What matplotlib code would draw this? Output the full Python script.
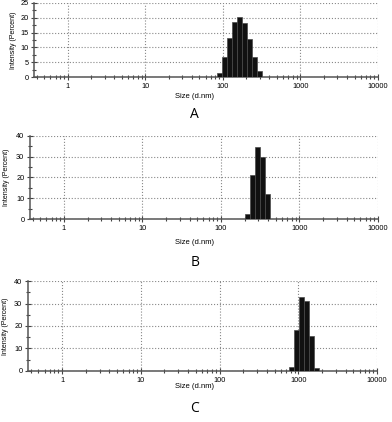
import numpy as np
import matplotlib
matplotlib.use("Agg")
import matplotlib.pyplot as plt
from matplotlib.ticker import LogLocator, NullFormatter, FixedLocator

plt.rcParams["font.family"] = ["Liberation Sans", "DejaVu Sans"]

# size classes (d.nm) and intensity (%)
sizes_a = [91.28, 105.7, 122.4, 141.8, 164.2, 190.1, 220.2, 255.0, 295.3]
intensity_a = [1.4, 6.6, 13.3, 18.5, 20.2, 18.2, 12.8, 6.6, 1.9]

sizes_b = [220.2, 255.0, 295.3, 342.0, 396.1]
intensity_b = [2.5, 21.4, 34.7, 30.0, 12.1]

sizes_c = [825.0, 955.4, 1106.0, 1281.0, 1484.0, 1718.0]
intensity_c = [1.6, 18.2, 32.9, 31.1, 15.5, 1.2]

decade_ticks = [1, 10, 100, 1000, 10000]
tick_labels = ["1", "10", "100", "1000", "10000"]

BIN_DEX = np.log10(10000 / 0.4) / 70  # width of one size class in decades


def draw_panel(ax, sizes, values, ymax, ystep, letter, label_y, letter_y, ylab_x):
    logc = np.log10(sizes)
    left = 10 ** (logc - BIN_DEX / 2)
    right = 10 ** (logc + BIN_DEX / 2)
    ax.bar(left, values, width=right - left, align="edge",
           color="#111111", edgecolor="#4a4a4a", linewidth=0.5, zorder=3)
    ax.set_xscale("log")
    ax.set_xlim(0.37, 10000)
    ax.set_ylim(0, ymax)
    ax.xaxis.set_major_locator(FixedLocator(decade_ticks))
    ax.set_xticklabels(tick_labels)
    ax.xaxis.set_minor_locator(LogLocator(base=10, subs=np.arange(2, 10)))
    ax.xaxis.set_minor_formatter(NullFormatter())
    ax.set_yticks(np.arange(0, ymax + 0.1, ystep))
    ax.set_yticks(np.arange(0, ymax + 0.1, ystep / 2), minor=True)
    ax.grid(True, which="major", linestyle=":", color="#888888", linewidth=0.8)
    for s in ["top", "right"]:
        ax.spines[s].set_visible(False)
    for s in ["left", "bottom"]:
        ax.spines[s].set_color("#555555")
        ax.spines[s].set_linewidth(1.1)
    ax.tick_params(which="both", direction="inout", colors="#444444",
                   labelcolor="black", labelsize=5.3)
    ax.tick_params(axis="x", pad=2.5)
    ax.tick_params(axis="y", pad=2)
    ax.tick_params(which="major", length=4, width=0.8)
    ax.tick_params(which="minor", length=3, width=0.8)
    ax.set_ylabel("Intensity (Percent)", fontsize=5)
    ax.yaxis.set_label_coords(ylab_x, 0.5)
    fig.text(0.497, label_y, "Size (d.nm)", fontsize=5.5, ha="center", va="center")
    fig.text(0.497, letter_y, letter, fontsize=10, ha="center", va="center",
             family=["Open Sans", "DejaVu Sans"])


fig = plt.figure(figsize=(3.92, 4.22), dpi=100)
ax_a = fig.add_axes([0.087, 0.8175, 0.877, 0.1755])
ax_b = fig.add_axes([0.0765, 0.481, 0.8875, 0.197])
ax_c = fig.add_axes([0.0714, 0.121, 0.8906, 0.213])

draw_panel(ax_a, sizes_a, intensity_a, 25, 5, "A", 0.7725, 0.7275, -0.051)
draw_panel(ax_b, sizes_b, intensity_b, 40, 10, "B", 0.4265, 0.377, -0.058)
draw_panel(ax_c, sizes_c, intensity_c, 40, 10, "C", 0.083, 0.033, -0.055)

fig.savefig("out.png", dpi=100)
